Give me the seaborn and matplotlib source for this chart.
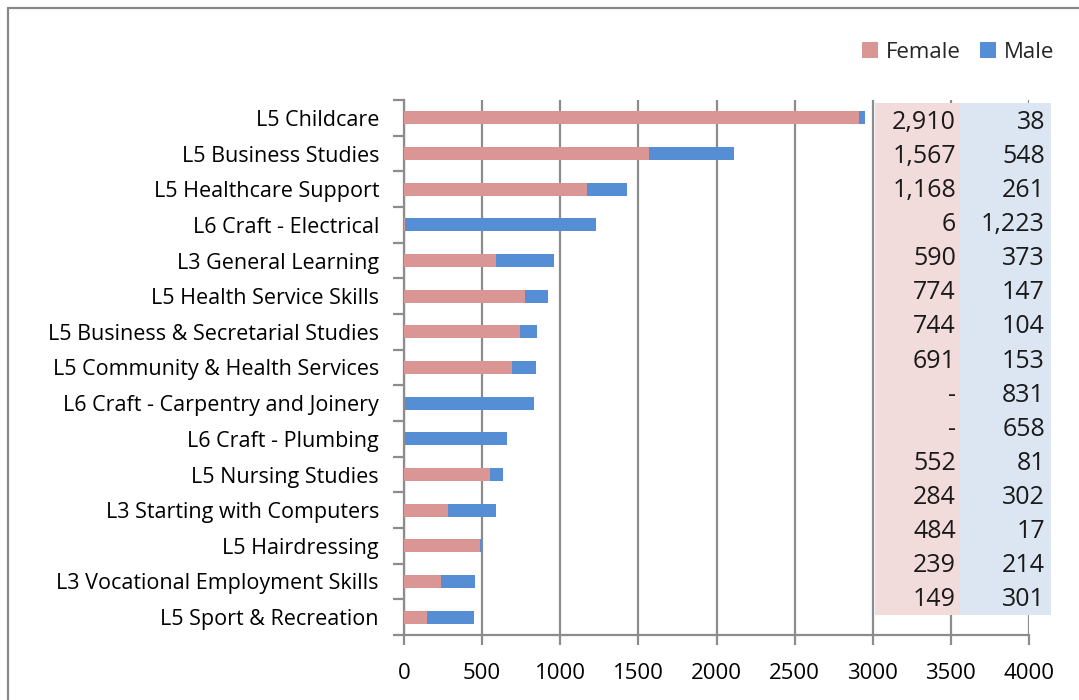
import matplotlib
matplotlib.use("Agg")
import matplotlib.pyplot as plt
from matplotlib.patches import Rectangle, Patch
from matplotlib.lines import Line2D
from matplotlib.ticker import MultipleLocator, FixedLocator
import seaborn as sns
import pandas as pd

courses = [
    "L5 Childcare", "L5 Business Studies", "L5 Healthcare Support",
    "L6 Craft - Electrical", "L3 General Learning", "L5 Health Service Skills",
    "L5 Business & Secretarial Studies", "L5 Community & Health Services",
    "L6 Craft - Carpentry and Joinery", "L6 Craft - Plumbing",
    "L5 Nursing Studies", "L3 Starting with Computers", "L5 Hairdressing",
    "L3 Vocational Employment Skills", "L5 Sport & Recreation",
]
female = [2910, 1567, 1168, 6, 590, 774, 744, 691, 0, 0, 552, 284, 484, 239, 149]
male = [38, 548, 261, 1223, 373, 147, 104, 153, 831, 658, 81, 302, 17, 214, 301]

FEMALE_C = "#D99694"
MALE_C = "#558ED5"
GRID_C = "#8C8C8C"

df = pd.DataFrame({"course": courses, "female": female, "male": male})
df["total"] = df["female"] + df["male"]

sns.set_theme(style="white")
plt.rcParams["font.family"] = ["Open Sans", "DejaVu Sans"]

W, H = 1079, 700
fig = plt.figure(figsize=(W / 100, H / 100), dpi=100)
ax = fig.add_axes([404 / W, (H - 635) / H, (1029 - 404) / W, (635 - 100) / H])

bw = 0.37
sns.barplot(data=df, y="course", x="total", color=MALE_C, orient="h",
            width=bw, saturation=1, linewidth=0, ax=ax, zorder=2)
sns.barplot(data=df, y="course", x="female", color=FEMALE_C, orient="h",
            width=bw, saturation=1, linewidth=0, ax=ax, zorder=3)

ax.set_xlim(0, 4000)
ax.set_ylim(len(courses) - 0.5, -0.5)
ax.set_xlabel("")
ax.set_ylabel("")
ax.xaxis.set_major_locator(MultipleLocator(500))
ax.grid(axis="x", color=GRID_C, linewidth=1.6, zorder=0)
ax.set_axisbelow(True)

for s in ("top", "right"):
    ax.spines[s].set_visible(False)
for s in ("left", "bottom"):
    ax.spines[s].set_color(GRID_C)
    ax.spines[s].set_linewidth(1.6)

ax.yaxis.set_minor_locator(FixedLocator([i - 0.5 for i in range(len(courses) + 1)]))
ax.tick_params(axis="y", which="major", length=0, pad=18, labelsize=15.5,
               labelcolor="#000000")
ax.tick_params(axis="y", which="minor", left=True, length=8, width=1.6,
               color=GRID_C)
ax.tick_params(axis="x", which="major", bottom=True, length=7, width=1.6,
               color=GRID_C, labelsize=16, pad=13, labelcolor="#000000")

# value table on the right
def fx(px):
    return px / W

def fy(py):
    return (H - py) / H

tbl_top, tbl_bot = 103, 615
ax.add_patch(Rectangle((fx(875), fy(tbl_bot)), fx(960) - fx(875),
                       fy(tbl_top) - fy(tbl_bot), transform=fig.transFigure,
                       facecolor="#F2DCDB", edgecolor="none", clip_on=False, zorder=4))
ax.add_patch(Rectangle((fx(960), fy(tbl_bot)), fx(1051) - fx(960),
                       fy(tbl_top) - fy(tbl_bot), transform=fig.transFigure,
                       facecolor="#DCE6F2", edgecolor="none", clip_on=False, zorder=4))

row_h = (tbl_bot - tbl_top) / len(courses)
for i, (f, m) in enumerate(zip(female, male)):
    yc = tbl_top + row_h * (i + 0.5) + 2
    ftxt = f"{f:,}" if f else "-"
    fig.text(fx(956), fy(yc), ftxt, ha="right", va="center", fontsize=18,
             color="#1a1a1a", zorder=5)
    fig.text(fx(1045), fy(yc), f"{m:,}", ha="right", va="center", fontsize=18,
             color="#1a1a1a", zorder=5)

# legend
handles = [Patch(facecolor=FEMALE_C, edgecolor="none", label="Female"),
           Patch(facecolor=MALE_C, edgecolor="none", label="Male")]
fig.legend(handles=handles, loc="center right", bbox_to_anchor=(fx(1054), fy(52)),
           ncol=2, frameon=False, fontsize=16, handlelength=0.7, handleheight=0.7,
           handletextpad=0.35, columnspacing=0.9, borderaxespad=0, borderpad=0)

# chart border
fig.add_artist(Line2D([fx(8), fx(8)], [fy(8), fy(H + 5)], transform=fig.transFigure,
                      color="#888888", linewidth=1.6))
fig.add_artist(Line2D([fx(8), fx(W + 5)], [fy(8), fy(8)], transform=fig.transFigure,
                      color="#888888", linewidth=1.6))

fig.savefig("out.png", dpi=100)
